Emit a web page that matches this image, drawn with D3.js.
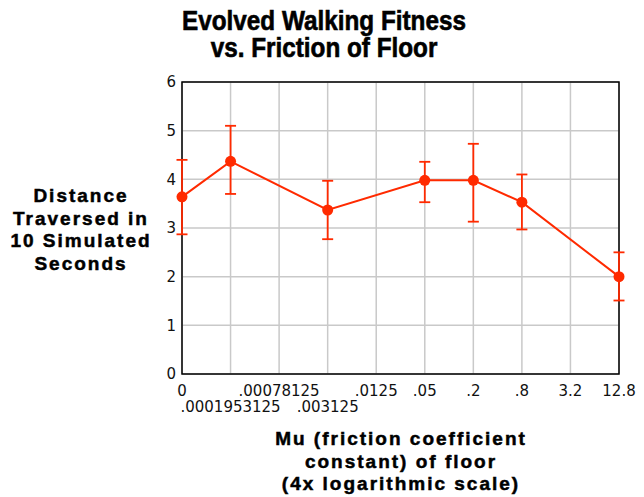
<!DOCTYPE html>
<html>
<head>
<meta charset="utf-8">
<script src="https://cdn.jsdelivr.net/npm/d3@7"></script>
<style>
  html, body { margin: 0; padding: 0; background: #fff; }
  svg { display: block; }
  .tick-label { font-family: "DejaVu Sans", sans-serif; font-size: 15px; fill: #111; }
  .title { font-family: "Liberation Sans", Arial, sans-serif; font-weight: bold; font-size: 27px; fill: #000; stroke: #000; stroke-width: 0.6px; }
  .axis-title { font-family: "Liberation Sans", Arial, sans-serif; font-weight: bold; font-size: 19px; letter-spacing: 2px; fill: #000; stroke: #000; stroke-width: 0.5px; }
</style>
</head>
<body>
<svg id="chart" width="644" height="497"></svg>
<script>
// x categories (friction coefficient, 4x log steps)
const muCategories = ['0', '.0001953125', '.00078125', '.003125', '.0125', '.05', '.2', '.8', '3.2', '12.8'];
// measured friction values, mean distance and error bar ends
const pointMu = ['0', '.0001953125', '.003125', '.05', '.2', '.8', '12.8'];
const meanDistance = [3.64, 4.37, 3.37, 3.98, 3.98, 3.53, 2.00];
const errorHigh = [4.40, 5.10, 3.97, 4.36, 4.73, 4.10, 2.50];
const errorLow = [2.87, 3.70, 2.77, 3.53, 3.13, 2.97, 1.51];
const yTicks = [0, 1, 2, 3, 4, 5, 6];

const titleLines = ['Evolved Walking Fitness', 'vs. Friction of Floor'];
const yTitleLines = ['Distance', 'Traversed in', '10 Simulated', 'Seconds'];
const xTitleLines = ['Mu (friction coefficient', 'constant) of floor', '(4x logarithmic scale)'];

const red = '#ff2a00';
const svg = d3.select('#chart');
const plot = { left: 182, right: 619, top: 82, bottom: 374 };

const x = d3.scalePoint()
  .domain(muCategories)
  .range([plot.left, plot.right])
  .padding(0);

const y = d3.scaleLinear()
  .domain([0, 6])
  .range([plot.bottom, plot.top]);

// grid
svg.append('g')
  .attr('stroke', '#c9c9c9')
  .attr('stroke-width', 1.5)
  .call(g => g.selectAll('.v').data(muCategories).enter().append('line')
    .attr('x1', d => x(d)).attr('x2', d => x(d))
    .attr('y1', plot.top).attr('y2', plot.bottom))
  .call(g => g.selectAll('.h').data(yTicks).enter().append('line')
    .attr('x1', plot.left).attr('x2', plot.right)
    .attr('y1', d => y(d)).attr('y2', d => y(d)));

// frame
svg.append('rect')
  .attr('x', plot.left)
  .attr('y', plot.top)
  .attr('width', plot.right - plot.left)
  .attr('height', plot.bottom - plot.top)
  .attr('fill', 'none')
  .attr('stroke', '#000')
  .attr('stroke-width', 1.5);

// y tick labels
svg.append('g')
  .selectAll('text')
  .data(yTicks)
  .enter()
  .append('text')
  .attr('class', 'tick-label')
  .attr('x', plot.left - 6)
  .attr('y', d => y(d))
  .attr('dy', '0.36em')
  .attr('text-anchor', 'end')
  .text(d => d);

// x tick labels, long ones dropped to a second row when they would collide
const xLabels = svg.append('g')
  .selectAll('text')
  .data(muCategories)
  .enter()
  .append('text')
  .attr('class', 'tick-label')
  .attr('x', d => x(d))
  .attr('y', 396)
  .attr('text-anchor', 'middle')
  .text(d => d);

let lastRight = -Infinity;
xLabels.each(function(d) {
  const w = this.getComputedTextLength();
  const left = x(d) - w / 2;
  if (left < lastRight + 4) {
    d3.select(this).attr('y', 411.5);
  } else {
    lastRight = x(d) + w / 2;
  }
});

// data
const points = pointMu.map((mu, i) => ({
  mu: mu,
  mean: meanDistance[i],
  hi: errorHigh[i],
  lo: errorLow[i]
}));

const data = svg.append('g');

data.append('path')
  .datum(points)
  .attr('fill', 'none')
  .attr('stroke', red)
  .attr('stroke-width', 2)
  .attr('d', d3.line().x(d => x(d.mu)).y(d => y(d.mean)));

const bars = data.selectAll('.err')
  .data(points)
  .enter()
  .append('g')
  .attr('stroke', red)
  .attr('stroke-width', 1.8);

bars.append('line')
  .attr('x1', d => x(d.mu)).attr('x2', d => x(d.mu))
  .attr('y1', d => y(d.hi)).attr('y2', d => y(d.lo));
bars.append('line')
  .attr('x1', d => x(d.mu) - 5.5).attr('x2', d => x(d.mu) + 5.5)
  .attr('y1', d => y(d.hi)).attr('y2', d => y(d.hi));
bars.append('line')
  .attr('x1', d => x(d.mu) - 5.5).attr('x2', d => x(d.mu) + 5.5)
  .attr('y1', d => y(d.lo)).attr('y2', d => y(d.lo));

data.selectAll('circle')
  .data(points)
  .enter()
  .append('circle')
  .attr('cx', d => x(d.mu))
  .attr('cy', d => y(d.mean))
  .attr('r', 5.5)
  .attr('fill', red);

// titles
svg.append('g')
  .attr('transform', 'translate(324,0) scale(0.9,1)')
  .selectAll('text')
  .data(titleLines)
  .enter()
  .append('text')
  .attr('class', 'title')
  .attr('x', 0)
  .attr('y', (d, i) => 30 + i * 27)
  .attr('text-anchor', 'middle')
  .text(d => d);

svg.append('g')
  .selectAll('text')
  .data(yTitleLines)
  .enter()
  .append('text')
  .attr('class', 'axis-title')
  .attr('x', 81)
  .attr('y', (d, i) => 202 + i * 22.7)
  .attr('text-anchor', 'middle')
  .text(d => d);

svg.append('g')
  .selectAll('text')
  .data(xTitleLines)
  .enter()
  .append('text')
  .attr('class', 'axis-title')
  .attr('x', 401)
  .attr('y', (d, i) => 445 + i * 22.5)
  .attr('text-anchor', 'middle')
  .text(d => d);
</script>
</body>
</html>
